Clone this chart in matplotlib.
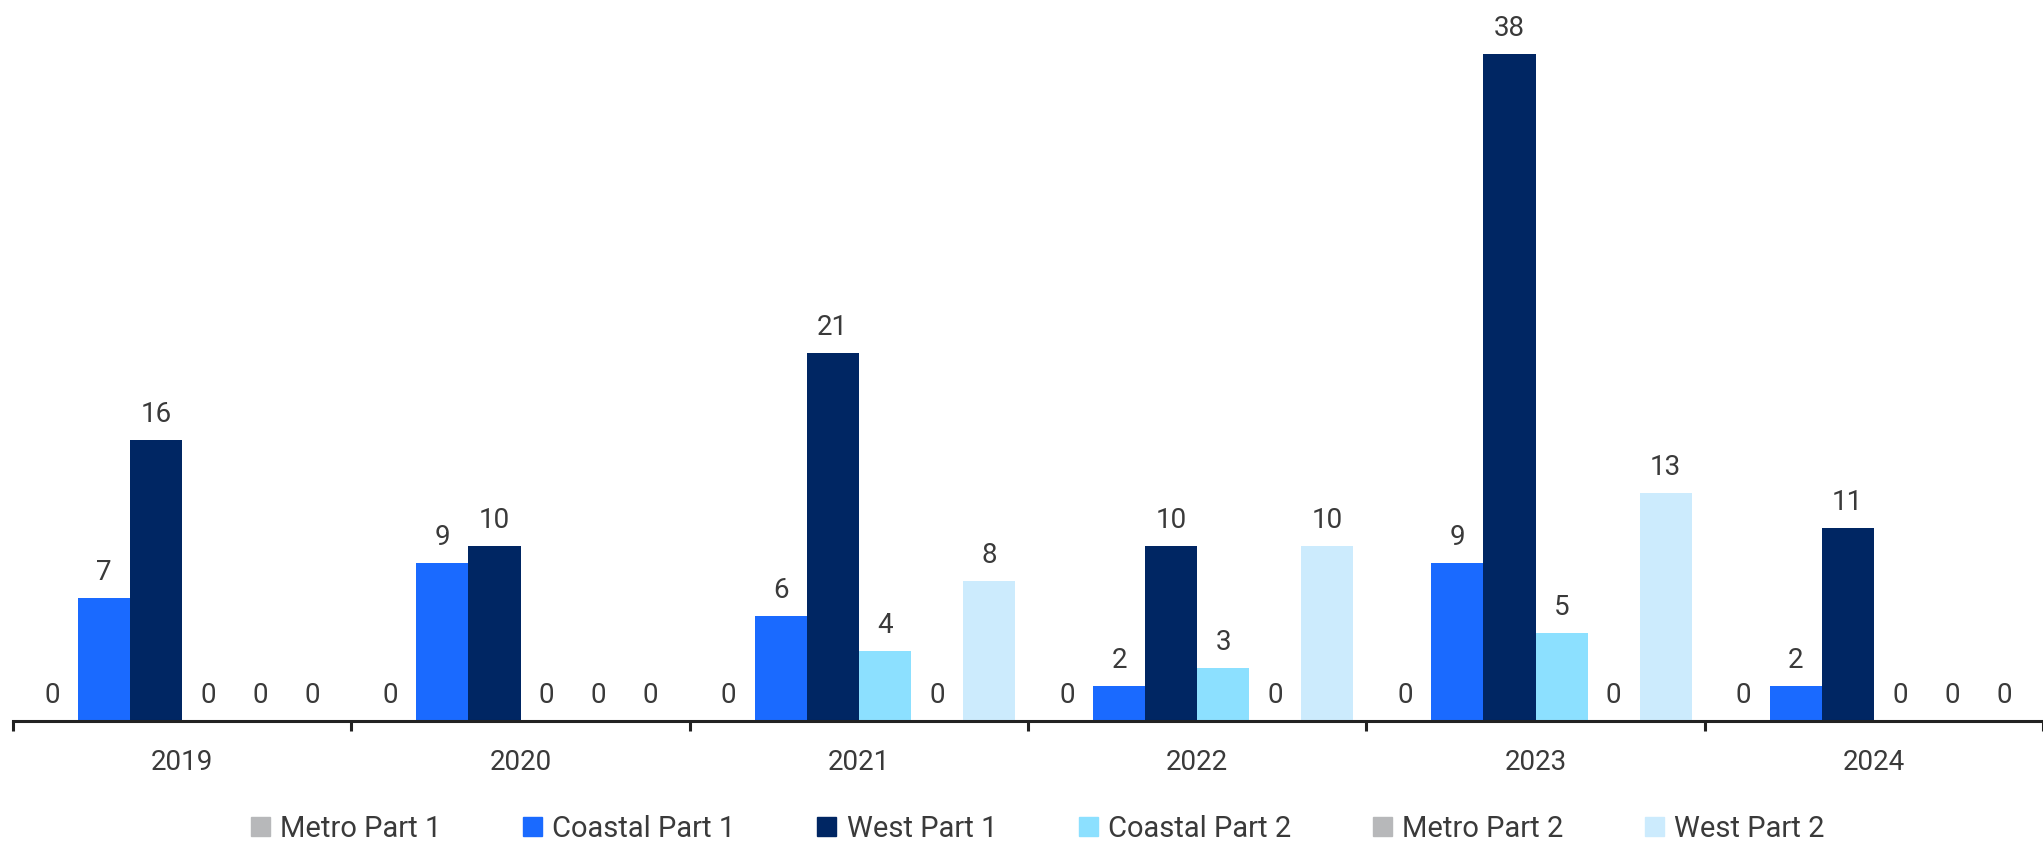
import matplotlib.pyplot as plt
import numpy as np
from matplotlib.patches import Patch

plt.rcParams['font.family'] = ['Roboto', 'DejaVu Sans']

years = ['2019', '2020', '2021', '2022', '2023', '2024']
series = ['Metro Part 1', 'Coastal Part 1', 'West Part 1',
          'Coastal Part 2', 'Metro Part 2', 'West Part 2']
metro_p1 = [0, 0, 0, 0, 0, 0]
coastal_p1 = [7, 9, 6, 2, 9, 2]
west_p1 = [16, 10, 21, 10, 38, 11]
coastal_p2 = [0, 0, 4, 3, 5, 0]
metro_p2 = [0, 0, 0, 0, 0, 0]
west_p2 = [0, 0, 8, 10, 13, 0]
colors = ['#B7B8BA', '#1A6AFF', '#002663', '#8CE0FF', '#B7B8BA', '#CCEBFD']

values = [metro_p1, coastal_p1, west_p1, coastal_p2, metro_p2, west_p2]

fig = plt.figure(figsize=(20.43, 8.43), dpi=100)
ax = fig.add_axes([13/2043, 122/843, 1 - 13/2043, 721/843])

gap = 10/260
w = 40/260
x = np.arange(len(years))
txt = '#3a3a3a'
for j, (name, vals, c) in enumerate(zip(series, values, colors)):
    pos = x + gap + w*(j + 0.5)
    ax.bar(pos, vals, width=w, color=c, label=name)
    for p, v in zip(pos, vals):
        ax.annotate(str(v), (p, v), xytext=(0, 12), textcoords='offset pixels',
                    ha='center', va='bottom', fontsize=20, color=txt)

ax.set_xlim(0, 6)
ax.set_ylim(0, 41.1)
for s in ['top', 'right', 'left']:
    ax.spines[s].set_visible(False)
ax.spines['bottom'].set_color('#222222')
ax.spines['bottom'].set_linewidth(2.2)
ax.set_yticks([])
ax.set_xticks(np.arange(0, 7))
ax.set_xticklabels([])
ax.tick_params(axis='x', which='major', length=7, width=2.2, color='#222222')
ax.set_xticks(x + 0.5, minor=True)
ax.set_xticklabels(years, minor=True)
ax.tick_params(axis='x', which='minor', length=0, pad=20, labelsize=20, labelcolor=txt)

handles = [Patch(color=c, label=n) for n, c in zip(series, colors)]
fig.legend(handles=handles, loc='center', bbox_to_anchor=(0.508, 1 - 829/843), ncol=6,
           frameon=False, fontsize=21, handlelength=0.65, handleheight=0.65,
           handletextpad=0.35, columnspacing=2.8, labelcolor=txt)

fig.savefig('out.png', dpi=100)
